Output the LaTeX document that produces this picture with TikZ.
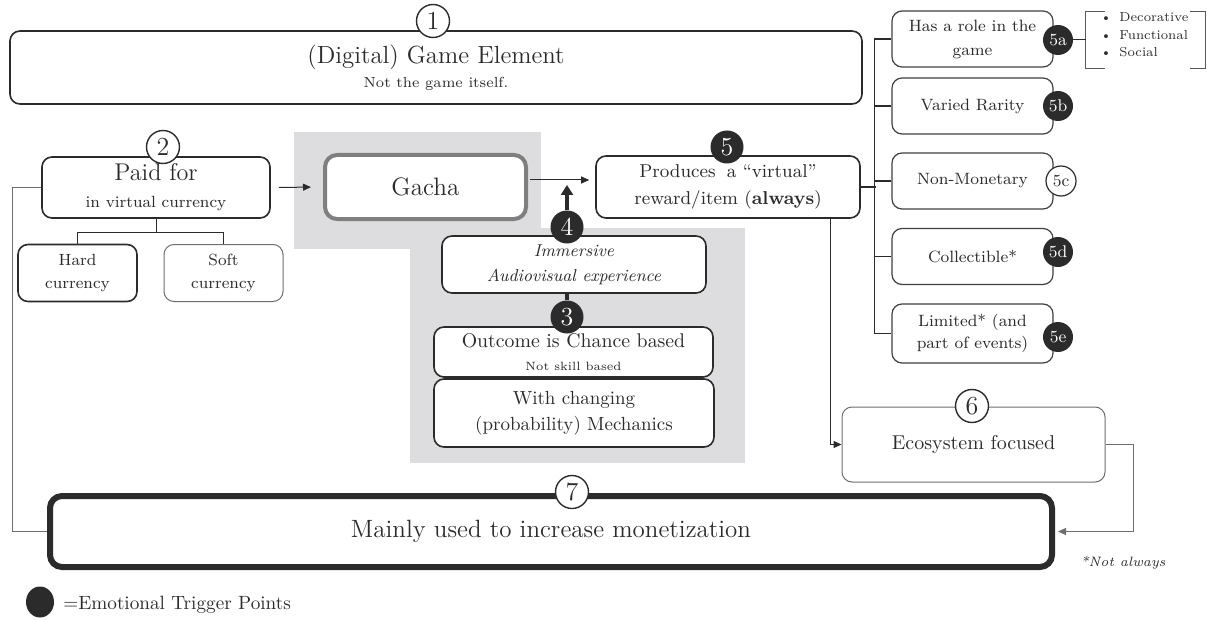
\documentclass[tikz,border=0pt]{standalone}
\usepackage{fontspec}
\usetikzlibrary{arrows.meta,calc,shapes.geometric}
\definecolor{ink}{HTML}{2B2B2B}
\definecolor{panel}{HTML}{DDDDE0}
\definecolor{rimgray}{HTML}{7F7F7F}
\definecolor{softline}{HTML}{6E6E6E}
\newcommand{\fs}[2]{\fontsize{#1}{#2}\selectfont}
\newcommand{\itembul}[1]{\makebox[9.5pt][l]{\textbullet}#1}

\begin{document}
\begin{tikzpicture}[x=0.5pt,y=-0.5pt,
  every node/.style={text=ink},
  box/.style={draw=ink, line width=0.8pt, rounded corners=5pt, fill=white, inner sep=0pt, align=center},
  thinbox/.style={box, draw=black!75, line width=0.6pt, minimum width=80.5pt, minimum height=28pt, font=\fs{8.2}{12}},
  faintbox/.style={box, draw=softline, line width=0.5pt},
  num/.style={circle, draw=ink, line width=0.7pt, fill=white, minimum size=16.5pt, inner sep=0pt, font=\fs{13}{13}},
  trig/.style={circle, fill=ink, text=white, minimum size=16.5pt, inner sep=0pt, font=\fs{13}{13}},
  subtrig/.style={circle, fill=ink, text=white, minimum size=15pt, inner sep=0pt, font=\fs{8.5}{8.5}},
  subnum/.style={circle, draw=ink, line width=0.6pt, fill=white, minimum size=15pt, inner sep=0pt, font=\fs{8.5}{8.5}},
  link/.style={draw=ink, line width=0.5pt},
  trunkline/.style={draw=ink, line width=0.8pt},
  tip/.style={-{Triangle[length=4pt,width=3.5pt]}},
  loopline/.style={draw=softline, line width=0.5pt},
  heavy/.style={draw=ink, line width=2pt},
]
\useasboundingbox (0,0) rectangle (1208,620);

% grey panels behind the gacha core
\fill[panel] (294,132) rectangle (541,249);
\fill[panel] (410,228) rectangle (745,463);

% main boxes
\node[box, minimum width=426pt, minimum height=36.5pt] (b1) at (436,67.5)
  {{\fs{12.4}{14}(Digital) Game Element}\\[0pt]{\fs{7.3}{9}Not the game itself.}};
\node[box, minimum width=114pt, minimum height=30.5pt] (paid) at (156,187.5)
  {{\fs{12.1}{14}Paid for}\\[1.5pt]{\fs{8.1}{10}in virtual currency}};
\node[box, minimum width=59.5pt, minimum height=28.5pt, font=\fs{8.1}{11.5}] (hard) at (77.5,273) {Hard\\currency};
\node[faintbox, minimum width=59.5pt, minimum height=28.5pt, font=\fs{8.1}{11.5}] (soft) at (223.5,273) {Soft\\currency};
\node[box, draw=rimgray, line width=2pt, rounded corners=6pt, minimum width=100.5pt, minimum height=32pt, font=\fs{12.6}{14}] (gacha) at (425.5,187) {Gacha};
\node[box, minimum width=132pt, minimum height=31pt, font=\fs{9.3}{13.5}] (b5) at (728,187)
  {Produces\hspace{0.6em}a “virtual”\\reward/item (\textbf{always})};
\node[box, minimum width=132pt, minimum height=28.5pt, font=\fs{8.6}{12.5}\itshape] (imm) at (574,264.5)
  {Immersive\\Audiovisual experience};
\node[box, minimum width=139.5pt, minimum height=25pt] (outc) at (573.5,352)
  {{\fs{9.9}{11}Outcome is Chance based}\\[-0.5pt]{\fs{6}{8}Not skill based}};
\node[box, minimum width=140pt, minimum height=34pt, font=\fs{9.5}{13}] (chg) at (574,413)
  {With changing\\(probability) Mechanics};

% properties of the reward
\node[thinbox] (r1) at (972.5,39) {Has a role in the\\game};
\node[thinbox] (r2) at (972.5,106) {Varied Rarity};
\node[thinbox] (r3) at (972.5,181) {Non-Monetary};
\node[thinbox] (r4) at (972.5,256.5) {Collectible*};
\node[thinbox, minimum height=29.5pt, font=\fs{8.2}{11}] (r5) at (972.5,333.5) {Limited* (and\\part of events)};

\node[inner sep=0pt, minimum width=59.5pt, minimum height=28pt] (items) at (1145.5,40) {};
\node[anchor=west, inner sep=0pt, align=left, font=\fs{6.5}{8.75}] (itemlist) at (1100,35)
  {\itembul{Decorative}\\\itembul{Functional}\\\itembul{Social}};

\node[faintbox, minimum width=131.5pt, minimum height=37.5pt, font=\fs{10}{12}] (eco) at (973.5,444.5) {Ecosystem focused};
\node[box, draw=ink, line width=3pt, rounded corners=6pt, minimum width=501pt, minimum height=35.5pt, font=\fs{12.5}{14}] (b7) at (551,531.5)
  {Mainly used to increase monetization};

% connectors
\draw[link, tip, shorten <=4pt, shorten >=6pt] (paid.east) -- (gacha.west);
\draw[link, tip, shorten <=1pt, shorten >=3pt] ([yshift=3.5pt]gacha.east) -- ([yshift=3.5pt]b5.west);
\draw[link] (paid.south) -- ++(0,14) -| (hard.north);
\draw[link] (paid.south) -- ++(0,14) -| (soft.north);
\draw[trunkline] (b5.east) -- ++(15,0);
\draw[trunkline] (r1.west) -- ++(-17,0) |- (r5.west);
\foreach \r in {r2,r3,r4} \draw[trunkline] (\r.west) -- ++(-17,0);
\draw[link, tip] ($(b5.south)+(102,0)$) |- (eco.west);
\draw[loopline, tip, shorten >=1.5pt] (eco.east) -- ++(28,0) |- (b7.east);
\draw[loopline] (paid.west) -- ++(-29,0) |- (b7.west);

% bracket round the list of roles
\draw[link, draw=black!65] ([xshift=9.5pt]items.north west) -- (items.north west) -- (items.south west) -- ([xshift=9.5pt]items.south west);
\draw[link, draw=black!65] ([xshift=-7.5pt]items.north east) -- (items.north east) -- (items.south east) -- ([xshift=-7.5pt]items.south east);

% numbered markers
\node[num] (c1) at (433,21) {1};
\node[num] (c2) at (163,147) {2};
\node[trig] (c5) at (727,147) {5};
\node[trig] (c4) at (567,227) {4};
\node[trig] (c3) at (567,317) {3};
\node[num] (c6) at (972,406) {6};
\node[num] (c7) at (572,492) {7};
\node[subtrig] (c5a) at (1058,40) {5a};
\node[subtrig] (c5b) at (1058,106) {5b};
\node[subnum] (c5c) at (1061,181) {5c};
\node[subtrig] (c5d) at (1058,252) {5d};
\node[subtrig] (c5e) at (1058,337) {5e};

\coordinate (hit) at (567,185);
\draw[heavy, -{Triangle[length=5pt,width=6pt]}] (c4.north) -- (hit);
\draw[heavy] (c3.north |- imm.south) -- (c3.north);
\draw[link] (c5a.east) -- (items.west);

% footnote and legend
\node[font=\fs{6.8}{8}\itshape, inner sep=0pt] (note) at (1123,563) {*Not always};
\node[ellipse, fill=ink, minimum width=14pt, minimum height=15.5pt, inner sep=0pt] (lg) at (40,602) {};
\node[anchor=west, font=\fs{9.6}{11}, inner sep=0pt] (lgtext) at (63,605) {=Emotional Trigger Points};
\end{tikzpicture}
\end{document}
